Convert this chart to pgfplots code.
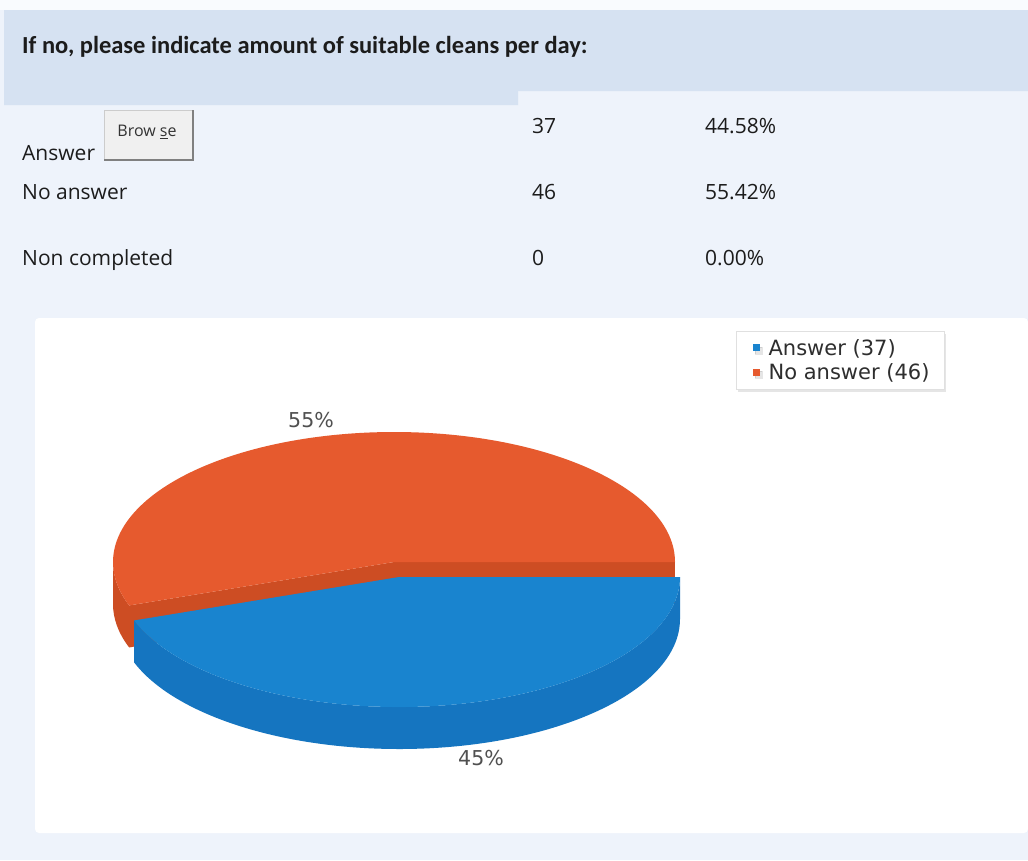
\documentclass[border=0pt]{standalone}
\usepackage{pgfplots}
\pgfplotsset{compat=1.18}
\usepackage{pgfplotstable}
\usepackage{fontspec}
\setmainfont{Open Sans}
\newfontfamily\hdfont{Carlito}
\newfontfamily\dejavu{DejaVu Sans}
\usetikzlibrary{shadows}

\definecolor{pageBg}{RGB}{238,243,251}
\definecolor{bandBg}{RGB}{214,226,242}
\definecolor{topBg}{RGB}{249,251,254}
\definecolor{oTop}{RGB}{230,90,46}
\definecolor{oSide}{RGB}{205,77,35}
\definecolor{bTop}{RGB}{25,132,207}
\definecolor{bSide}{RGB}{21,117,192}
\definecolor{txt}{RGB}{28,28,28}
\definecolor{lbl}{RGB}{80,80,80}

\pgfplotstableread{
label value
Answer 37
NoAnswer 46
}\piedata

\begin{document}
\begin{tikzpicture}
\pgfplotstablegetelem{0}{value}\of\piedata \let\va\pgfplotsretval
\pgfplotstablegetelem{1}{value}\of\piedata \let\vb\pgfplotsretval
\pgfmathsetmacro\angA{360*\va/(\va+\vb)}
\pgfmathsetmacro\angO{360-\angA}
\def\cxO{394}\def\cyO{562}
\def\cxB{399}\def\cyB{577}
\def\rx{281pt}\def\ry{130pt}\def\dep{42pt}
\begin{axis}[width=1028pt,height=860pt,scale only axis,
  xmin=0,xmax=1028,ymin=0,ymax=860,y dir=reverse,hide axis,clip=false,
  legend style={at={(axis cs:736,331)},anchor=north west,draw=black!12,fill=white,
    font=\dejavu\fontsize{21}{25}\selectfont,text=black!82,
    inner xsep=13pt,inner ysep=6pt,row sep=3pt,
    drop shadow={shadow xshift=1.5pt,shadow yshift=-2.5pt,opacity=0.10,fill=black}},
  legend cell align=left]
% backgrounds
\fill[pageBg] (axis cs:0,0) rectangle (axis cs:1028,860);
\fill[topBg] (axis cs:0,0) rectangle (axis cs:1028,10);
\fill[bandBg] (axis cs:4,10) -- (axis cs:1028,10) -- (axis cs:1028,91) -- (axis cs:518,91)
   -- (axis cs:518,105) -- (axis cs:4,105) -- cycle;
\fill[white,rounded corners=4pt] (axis cs:35,318) rectangle (axis cs:1028,833);
% header
\node[anchor=base west,inner sep=0pt,text=txt,font=\hdfont\bfseries\fontsize{24.5}{28}\selectfont]
  at (axis cs:22,53) {If no, please indicate amount of suitable cleans per day:};
% table
\begin{scope}[every node/.style={anchor=base west,inner sep=0pt,text=txt,font=\fontsize{21}{25}\selectfont}]
\node at (axis cs:22,160) {Answer};
\node at (axis cs:532,133) {37};
\node at (axis cs:705,133) {44.58\%};
\node at (axis cs:22,199) {No answer};
\node at (axis cs:532,199) {46};
\node at (axis cs:705,199) {55.42\%};
\node at (axis cs:22,265) {Non completed};
\node at (axis cs:532,265) {0};
\node at (axis cs:705,265) {0.00\%};
\end{scope}
% browse button
\fill[black!6] (axis cs:104,110) rectangle (axis cs:193,160);
\draw[black!20,line width=0.8pt] (axis cs:104,160) -- (axis cs:104,110) -- (axis cs:193,110);
\draw[black!50,line width=1.2pt] (axis cs:193,110) -- (axis cs:193,160) -- (axis cs:104,160);
\node[inner sep=0pt,text=black!80,font=\fontsize{16}{19}\selectfont] at (axis cs:147,132) {Brow \underline{s}e};
% pie: orange slice (lifted)
\fill[oSide] ([shift={(180:281pt and 130pt)}]axis cs:\cxO,\cyO)
  arc[start angle=180,end angle=\angO,x radius=\rx,y radius=\ry]
  -- ++(0pt,-\dep) arc[start angle=\angO,end angle=180,x radius=\rx,y radius=\ry] -- cycle;
\fill[oSide] (axis cs:\cxO,\cyO) -- ([shift={(0:281pt and 130pt)}]axis cs:\cxO,\cyO)
  -- ++(0pt,-\dep) -- ([yshift=-\dep]axis cs:\cxO,\cyO) -- cycle;
\fill[oSide] (axis cs:\cxO,\cyO) -- ([shift={(\angO:281pt and 130pt)}]axis cs:\cxO,\cyO)
  -- ++(0pt,-\dep) -- ([yshift=-\dep]axis cs:\cxO,\cyO) -- cycle;
\fill[oTop] (axis cs:\cxO,\cyO) -- ([shift={(0:281pt and 130pt)}]axis cs:\cxO,\cyO)
  arc[start angle=0,end angle=\angO,x radius=\rx,y radius=\ry] -- cycle;
% blue slice
\fill[bSide] ([shift={(\angO:281pt and 130pt)}]axis cs:\cxB,\cyB)
  arc[start angle=\angO,end angle=360,x radius=\rx,y radius=\ry]
  -- ++(0pt,-\dep) arc[start angle=360,end angle=\angO,x radius=\rx,y radius=\ry] -- cycle;
\fill[bTop] (axis cs:\cxB,\cyB) -- ([shift={(\angO:281pt and 130pt)}]axis cs:\cxB,\cyB)
  arc[start angle=\angO,end angle=360,x radius=\rx,y radius=\ry] -- cycle;
% labels
\node[text=lbl,font=\dejavu\fontsize{20.5}{24}\selectfont] at (axis cs:311,420) {55\%};
\node[text=lbl,font=\dejavu\fontsize{20.5}{24}\selectfont] at (axis cs:481,758) {45\%};
% legend
\addlegendimage{legend image code/.code={\path (0pt,0pt) (17pt,0pt); \fill[bTop,draw=none] (4pt,-3.5pt) rectangle (11pt,3.5pt);}}
\addlegendentry{Answer (37)}
\addlegendimage{legend image code/.code={\path (0pt,0pt) (17pt,0pt); \fill[oTop,draw=none] (4pt,-3.5pt) rectangle (11pt,3.5pt);}}
\addlegendentry{No answer (46)}
\end{axis}
\end{tikzpicture}
\end{document}
